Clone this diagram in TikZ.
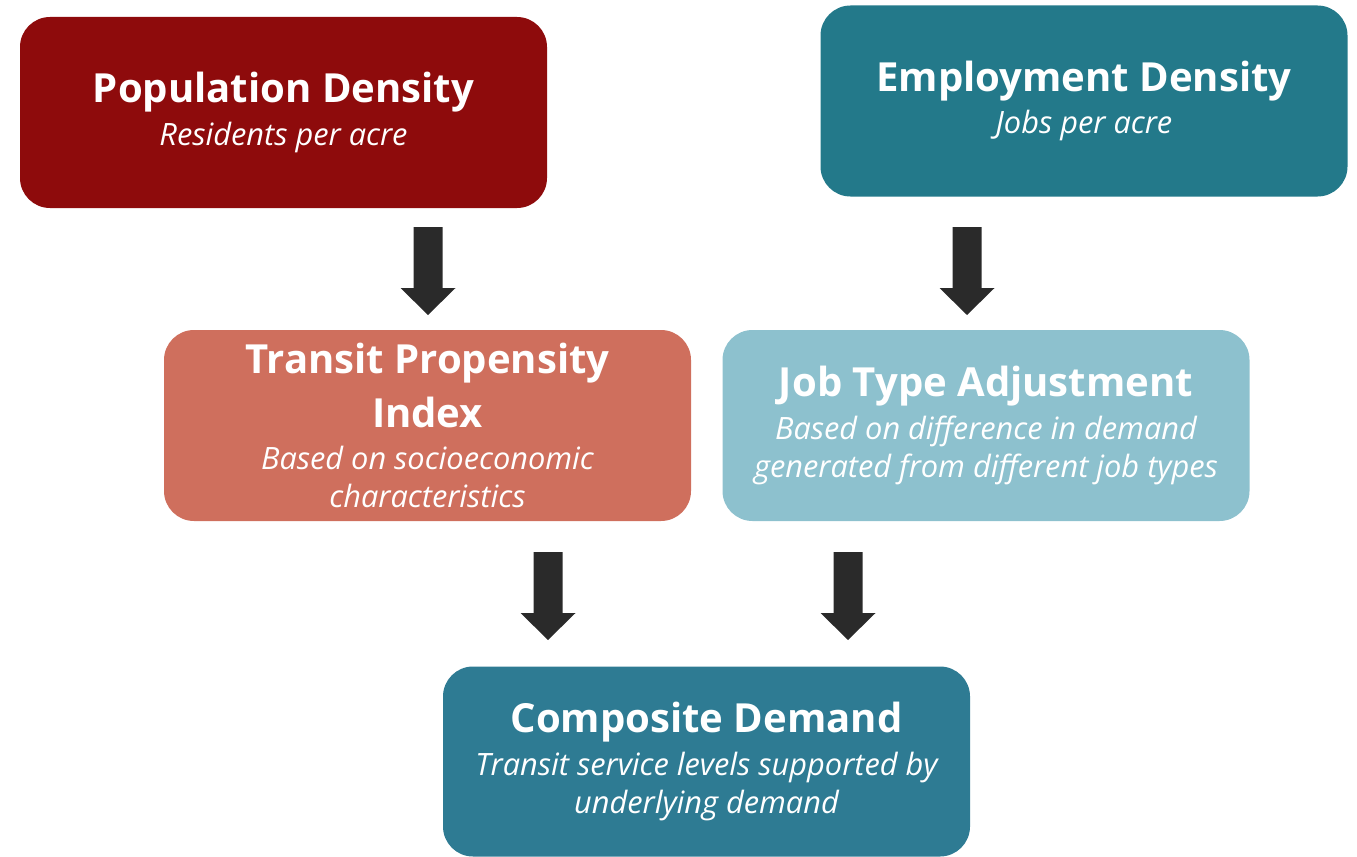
\documentclass[tikz,border=0pt]{standalone}
\usepackage{fontspec}
\setmainfont{Open Sans}
\usetikzlibrary{positioning}
\definecolor{popred}{HTML}{8E0B0C}
\definecolor{empteal}{HTML}{23798A}
\definecolor{tpisalmon}{HTML}{CF6F5D}
\definecolor{jobblue}{HTML}{8DC1CE}
\definecolor{compteal}{HTML}{2E7B93}
\definecolor{arrowgray}{HTML}{2A2A2A}
\newcommand{\titlefont}{\fontsize{22.8}{28.4}\selectfont\upshape\bfseries}
\newcommand{\subfont}{\fontsize{17.5}{21.5}\selectfont\itshape}
\tikzset{
  pics/downarrow/.style={code={
    \fill[arrowgray] (-0.29,0) -- (0.29,0) -- (0.29,-1.22) -- (0.55,-1.22)
      -- (0,-1.76) -- (-0.55,-1.22) -- (-0.29,-1.22) -- cycle;
  }}
}
\begin{document}
\begin{tikzpicture}[
  tierbox/.style={rectangle, rounded corners=0.6cm, minimum width=10.54cm, minimum height=3.82cm,
    align=center, text=white, font=\subfont, inner sep=0pt}
]
  \useasboundingbox (0,0) rectangle (27.14,-17.12);
  % Top layer
  \node[tierbox, fill=popred] (pop) at (5.67,-2.25)
    {{\titlefont Population Density}\\[0.1cm]Residents per acre};
  \node[tierbox, fill=empteal] (emp) at (21.68,-2.02)
    {{\titlefont Employment Density}\\[0.1cm]Jobs per acre};

  % Adjustments
  \node[tierbox, fill=tpisalmon] (tpi) at (8.55,-8.51)
    {{\titlefont Transit Propensity}\\[0.24cm]{\titlefont Index}\\[0.1cm]Based on socioeconomic\\characteristics};
  \node[tierbox, fill=jobblue] (jobtype) at (19.72,-8.51)
    {{\titlefont Job Type Adjustment}\\[0.1cm]Based on difference in demand\\generated from different job types};

  % Result
  \node[tierbox, fill=compteal, minimum height=3.80cm] (comp) at (14.13,-15.23)
    {{\titlefont Composite Demand}\\[0.1cm]Transit service levels supported by\\underlying demand};

  % Block arrows
  \pic at (8.56,-4.54) {downarrow};
  \pic at (19.34,-4.54) {downarrow};
  \pic at (10.96,-11.04) {downarrow};
  \pic at (16.96,-11.04) {downarrow};
\end{tikzpicture}
\end{document}
